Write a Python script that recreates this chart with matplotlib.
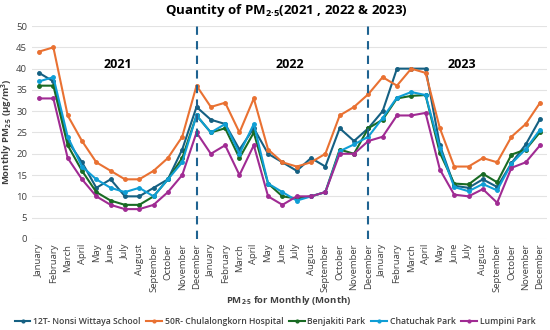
import numpy as np
import matplotlib.pyplot as plt

plt.rcParams['font.family'] = ['Open Sans', 'DejaVu Sans']
plt.rcParams['mathtext.default'] = 'regular'

# THE DATA ********************************************************************
months = ['January', 'February', 'March', 'April', 'May', 'June', 'July', 'August',
          'September', 'October', 'November', 'December']
years = ['2021', '2022', '2023']

nonsi = [39, 37, 23, 18, 12, 14, 10, 10, 12, 14, 21, 31,
         28, 27, 21, 26, 20, 18, 16, 19, 17, 26, 23, 26,
         30, 40, 40, 40, 22, 12.5, 12, 14, 12.2, 17.8, 22.2, 28.2]
chula = [44, 45, 29, 23, 18, 16, 14, 14, 16, 19, 24, 36,
         31, 32, 25, 33, 21, 18, 17, 18, 20, 29, 31, 34,
         38, 36, 40, 39, 26, 17, 17, 19, 18, 24, 27, 32]
benjakiti = [36, 36, 22, 16, 11, 9, 8, 8, 10, 14, 19, 29,
             25, 26, 19, 25, 13, 10, 9.5, 10, 11, 21, 20, 26,
             28, 33, 33.6, 33.8, 20.2, 13, 12.8, 15.3, 13.3, 19.8, 21, 25.1]
chatuchak = [37, 38, 24, 17, 14, 12, 11, 12, 10, 14, 18, 29,
             25, 27, 20, 27, 13, 11, 9, 10, 11, 20.6, 22.2, 24,
             28.4, 33.2, 34.5, 33.8, 21.4, 12.2, 11.2, 12.9, 11.4, 17.7, 21.1, 25.7]
lumpini = [33, 33, 19, 14, 10, 8, 7, 7, 8, 11, 15, 25,
           20, 22, 15, 22, 10, 8, 10, 10, 11, 20, 20, 23,
           24, 29, 29, 29.6, 16.3, 10.4, 10, 11.7, 8.5, 16.7, 18, 22]

series = [
    ('12T- Nonsi Wittaya School', nonsi, '#156082'),
    ('50R- Chulalongkorn Hospital', chula, '#E97132'),
    ('Benjakiti Park', benjakiti, '#196B24'),
    ('Chatuchak Park', chatuchak, '#0F9ED5'),
    ('Lumpini Park', lumpini, '#A02B93'),
]

# THE CHART *******************************************************************
labels = months * len(years)
x = np.arange(len(labels))

fig = plt.figure(figsize=(5.5, 3.3), dpi=100, facecolor='w')
ax = fig.add_axes([0.058, 0.276, 0.937, 0.645])

for name, vals, col in series:
    ax.plot(x, vals, color=col, linewidth=1.5, marker='o', markersize=2.5, label=name, zorder=3)

# Year separators
for sep in [11, 23]:
    ax.axvline(sep, color='#1f6391', linestyle=(0, (4, 3)), linewidth=1.5, zorder=4)

# Year labels
for i, yr in enumerate(years):
    ax.text(i * 12 + 5.5, 41, yr, fontsize=9, fontweight='bold', ha='center', va='center')

ax.set_xlim(-0.5, 35.5)
ax.set_ylim(0, 50)
ax.set_yticks(np.arange(0, 51, 5))
ax.set_xticks(x)
ax.set_xticklabels(labels, rotation=90, fontsize=6.8, color='#404040')
ax.tick_params(axis='y', labelsize=6.8, labelcolor='#404040')
ax.tick_params(which='both', length=0)
ax.grid(axis='y', color='#e3e3e3', linewidth=0.8, zorder=0)
plt.setp(ax.spines.values(), visible=False)

fig.text(0.014, 0.6, 'Monthly PM$_{2\u00b75}$ (\u00b5g/m$^{3}$)', fontsize=6.8, fontweight='bold',
         color='#404040', rotation=90, ha='center', va='center')
fig.text(0.525, 0.088, 'PM$_{2\u00b75}$ for Monthly (Month)', fontsize=6.8, fontweight='bold',
         color='#404040', ha='center', va='center')

fig.suptitle('Quantity of PM$_{2\u00b75}$(2021 , 2022 & 2023)', x=0.52, y=0.995, fontsize=9.5,
             fontweight='bold', va='top')

leg = fig.legend(loc='center', bbox_to_anchor=(0.5, 0.027), ncol=5, frameon=False, fontsize=6.2,
                 handlelength=1.8, handletextpad=0.3, columnspacing=0.7, markerscale=0.8)
for t in leg.get_texts():
    t.set_color('#404040')
    t.set_fontweight('semibold')

plt.savefig('out.png', dpi=100, facecolor='w')
